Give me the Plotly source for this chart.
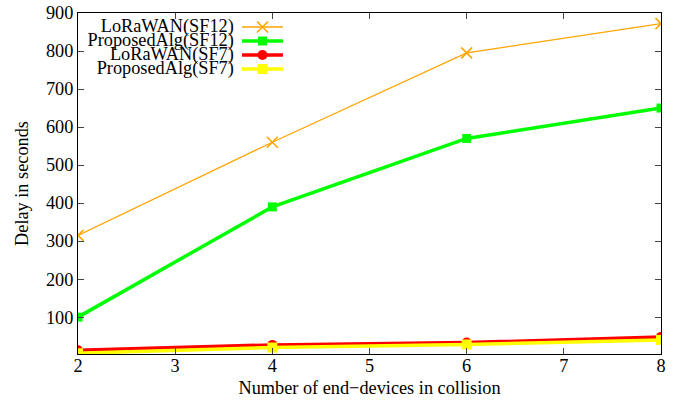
import plotly.graph_objects as go

x_vals = [2, 4, 6, 8]
lorawan_sf12 = [315, 560, 795, 872]
proposed_sf12 = [100, 390, 570, 650]
lorawan_sf7 = [13, 27, 33, 48]
proposed_sf7 = [5, 20, 28, 40]
names = ["LoRaWAN(SF12)", "ProposedAlg(SF12)", "LoRaWAN(SF7)", "ProposedAlg(SF7)"]
y_ticks = [100, 200, 300, 400, 500, 600, 700, 800, 900]
x_ticks = [2, 3, 4, 5, 6, 7, 8]

FONT = "Liberation Serif"
FS = 18.3
fig = go.Figure()
series = [
    (lorawan_sf12, "#ffa500", 1.3, "x-thin-open", 11, 1.6),
    (proposed_sf12, "#00ff00", 3.5, "square", 9, 0),
    (lorawan_sf7, "#ff0000", 3.5, "circle", 10, 0),
    (proposed_sf7, "#ffff00", 3.5, "square", 10, 0),
]
for (ys, col, lw, sym, ms, mlw), nm in zip(series, names):
    fig.add_trace(go.Scatter(
        x=x_vals, y=ys, mode="lines+markers", name=nm, showlegend=False,
        line=dict(color=col, width=lw),
        marker=dict(symbol=sym, size=ms, color=col, line=dict(color=col, width=mlw)),
    ))

# key (gnuplot-style: right-aligned text, sample on the right), drawn on its own small axes
for i, ((ys, col, lw, sym, ms, mlw), nm) in enumerate(zip(series, names)):
    fig.add_trace(go.Scatter(
        x=[0, 1], y=[i, i], mode="lines", showlegend=False, hoverinfo="skip",
        line=dict(color=col, width=lw), xaxis="x2", yaxis="y2", cliponaxis=False))
    fig.add_trace(go.Scatter(
        x=[0.5], y=[i], mode="markers", showlegend=False, hoverinfo="skip",
        marker=dict(symbol=sym, size=ms, color=col, line=dict(color=col, width=mlw)),
        xaxis="x2", yaxis="y2", cliponaxis=False))
fig.add_trace(go.Scatter(
    x=[-0.2] * len(names), y=list(range(len(names))), mode="text", text=names,
    textposition="middle left", showlegend=False, hoverinfo="skip",
    textfont=dict(family=FONT, size=FS, color="black"),
    xaxis="x2", yaxis="y2", cliponaxis=False))

fig.update_layout(
    width=678, height=402,
    margin=dict(l=78, r=17, t=13, b=48, autoexpand=False),
    paper_bgcolor="white", plot_bgcolor="rgba(0,0,0,0)",
    font=dict(family=FONT, size=FS, color="black"),
    showlegend=False,
    xaxis=dict(range=[2, 8], tickvals=x_ticks, ticks="inside", ticklen=6, mirror="allticks",
               showline=True, linecolor="black", linewidth=1, showgrid=False, zeroline=False,
               automargin=False, ticklabelstandoff=-5,
               title=dict(text="Number of end\u2212devices in collision", font=dict(family=FONT, size=FS), standoff=6),
               tickfont=dict(family=FONT, size=FS)),
    yaxis=dict(range=[3, 900], tickvals=y_ticks, ticks="inside", ticklen=6, mirror="allticks",
               showline=True, linecolor="black", linewidth=1, showgrid=False, zeroline=False,
               automargin=False,
               title=dict(text="Delay in seconds", font=dict(family=FONT, size=FS), standoff=12),
               tickfont=dict(family=FONT, size=FS)),
    xaxis2=dict(domain=[0.2602, 0.3516], range=[-0.3, 1], visible=False, anchor="y2", fixedrange=True),
    yaxis2=dict(domain=[0.8152, 0.9795], range=[3.5, -0.5], visible=False, anchor="x2", fixedrange=True),
)
fig.write_html("out.html", post_script="document.body.style.margin='0';",
               config={"displayModeBar": False})
